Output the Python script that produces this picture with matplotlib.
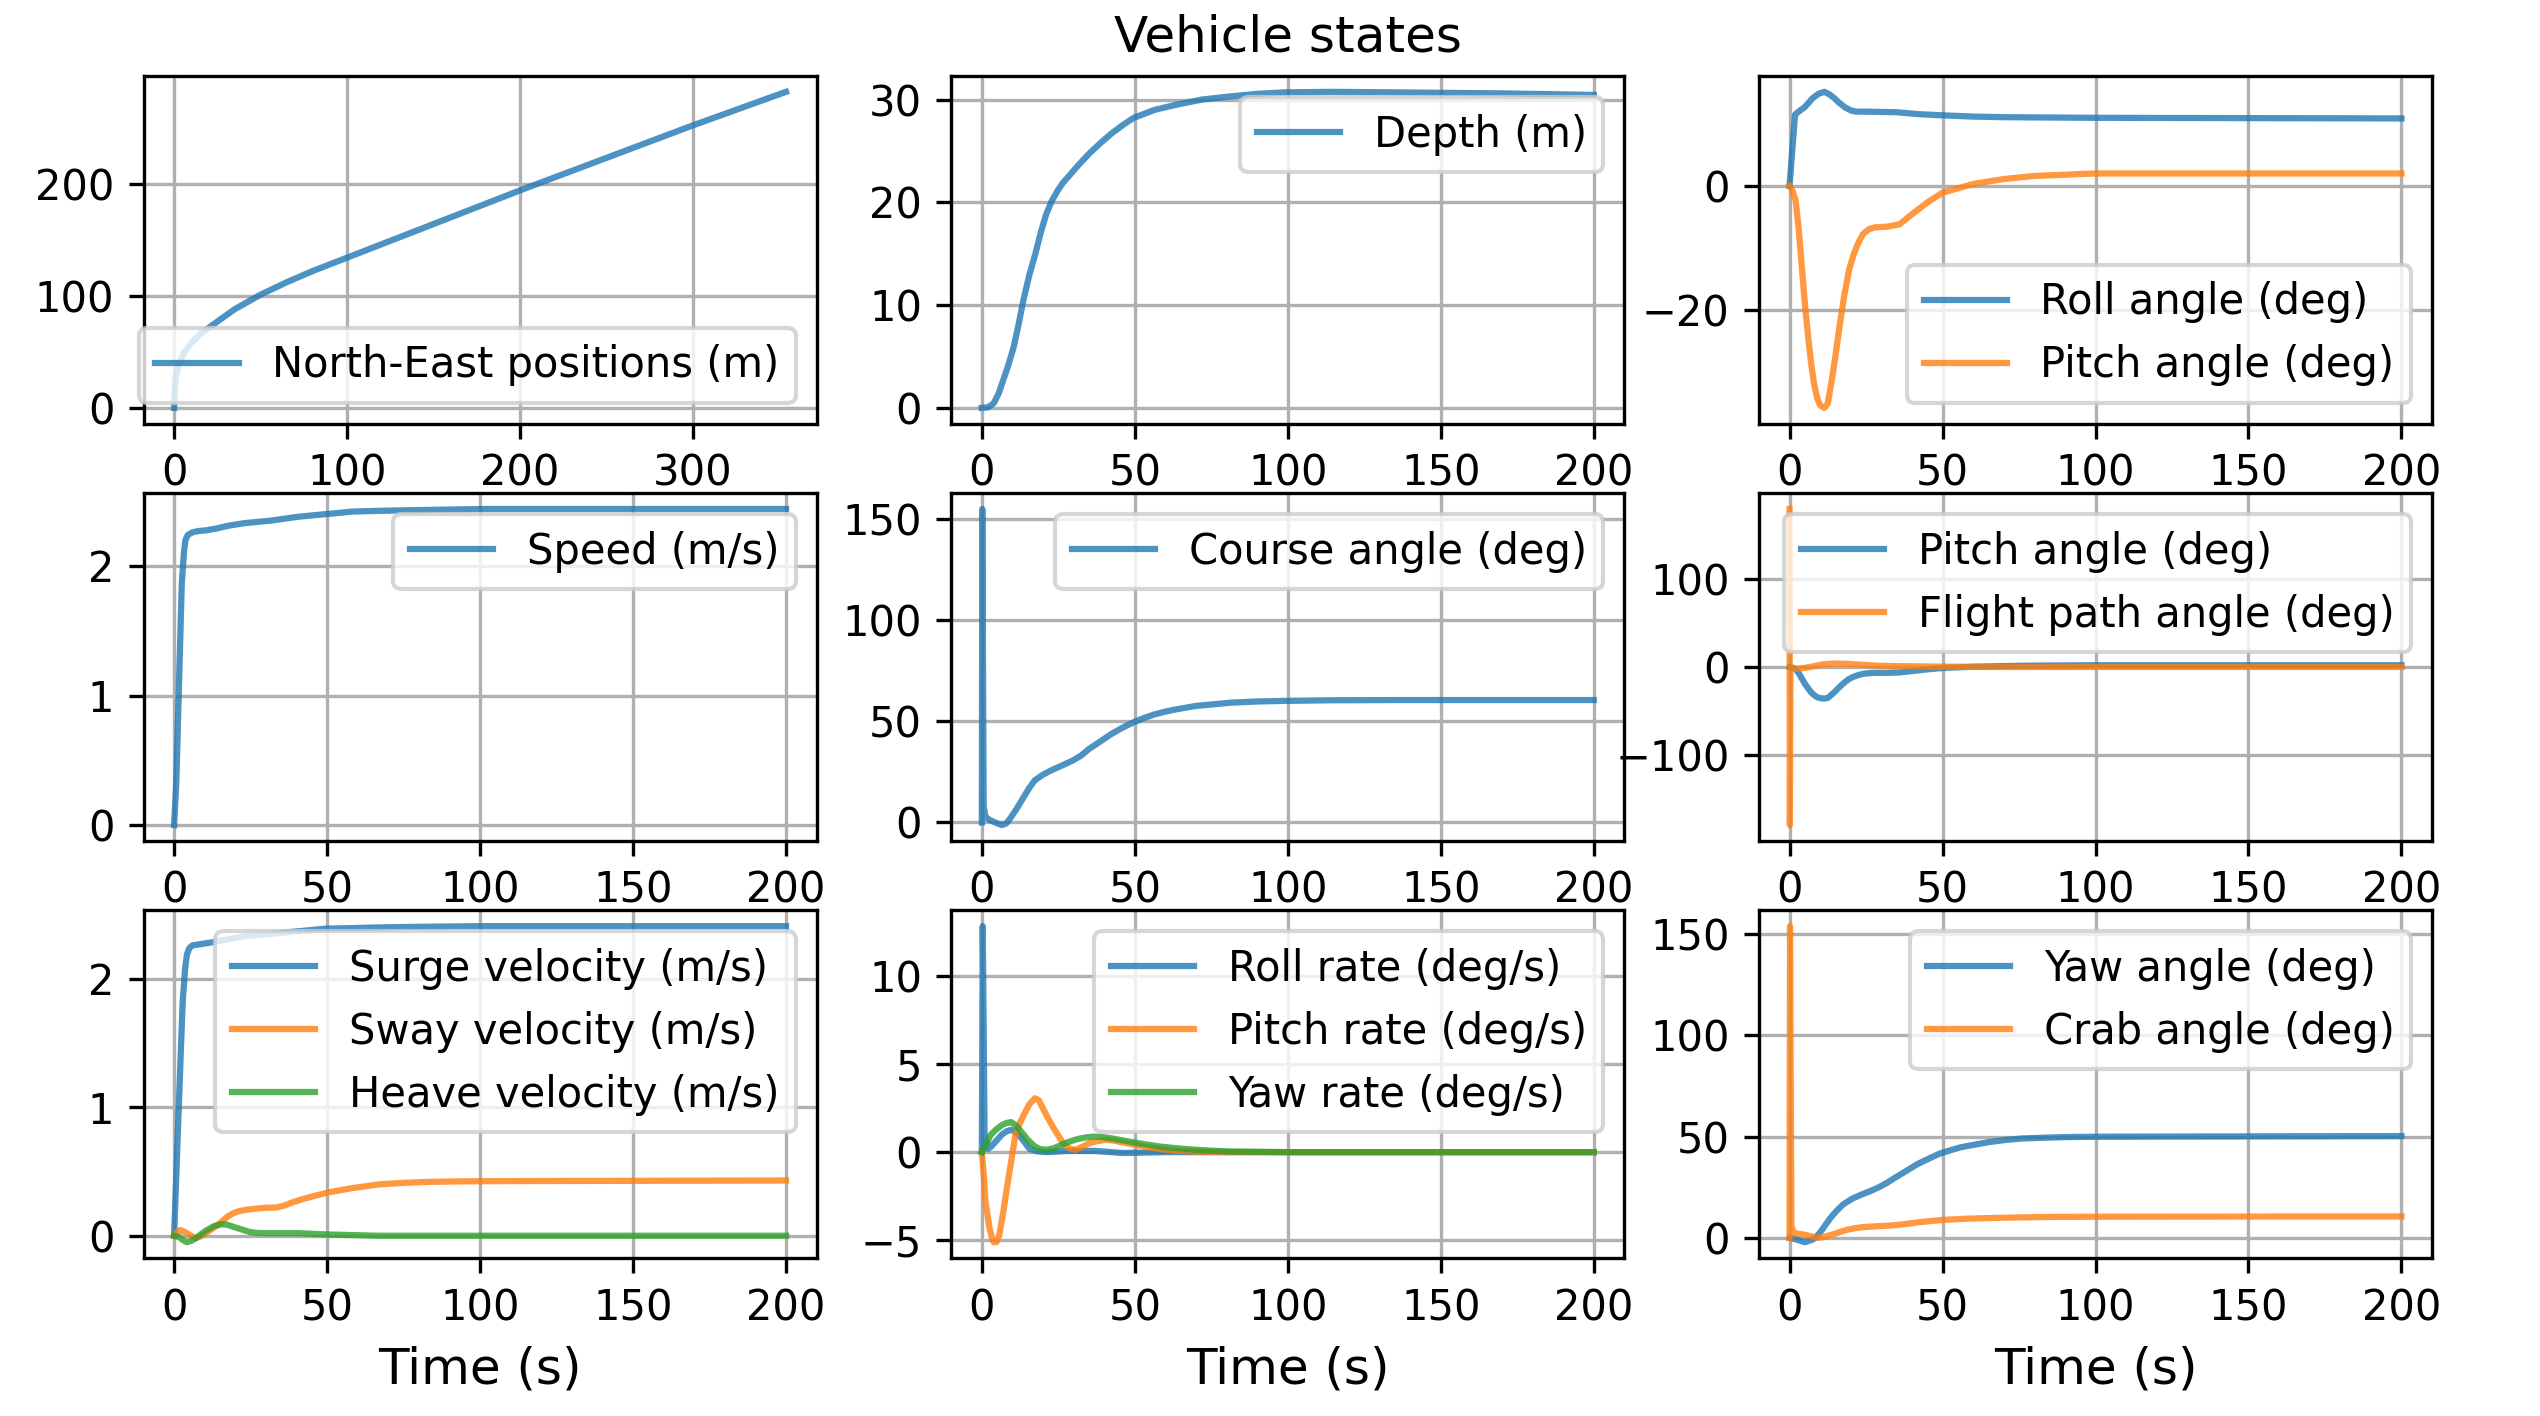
import numpy as np
import matplotlib
matplotlib.use('Agg')
import matplotlib.pyplot as plt

# ---- data ----
east = [0, 0.3, 1, 3, 6, 10, 16, 25, 35, 50, 65, 80, 100, 125, 150, 200, 250, 300, 354]
north = [0, 15, 28, 40, 50, 58, 67, 77, 88, 101, 112, 122, 134, 149, 164, 194, 223, 252, 282]

t_depth = [0, 2, 3.9, 5.5, 7, 8.7, 10.4, 12, 13.6, 15.5, 17.5, 19.3, 21, 22.8, 24.7, 26.5, 28.3,
           31.8, 35.3, 38.9, 42.4, 46, 49.5, 56.5, 63.6, 72, 81, 90, 99, 115, 134, 170, 200]
depth = [0, 0.05, 0.45, 1.4, 2.7, 4.2, 5.9, 8.1, 10.5, 12.9, 15, 17.1, 18.8, 20.1, 21.1, 21.9,
         22.5, 23.7, 24.8, 25.8, 26.7, 27.5, 28.2, 29.0, 29.5, 30.0, 30.3, 30.55, 30.7, 30.75,
         30.7, 30.6, 30.45]

t_roll = [0, 1.8, 3.2, 4.9, 7.6, 9.5, 11.4, 13, 14.6, 16.3, 18.1, 20, 21.7, 25, 35, 42, 50, 60,
          70, 100, 200]
roll = [0, 11.5, 12.1, 12.7, 14.2, 14.9, 15.2, 14.8, 14.2, 13.4, 12.7, 12.2, 12.0, 12.0, 11.9,
        11.6, 11.4, 11.2, 11.1, 11.0, 10.9]

t_pitch = [0, 1, 2, 3, 4, 5, 6, 7, 8, 9, 10, 11.4, 12.5, 14, 15, 16, 17, 18, 19.5, 21, 22.5, 24,
           26, 28, 32, 36, 40, 45, 50, 55, 60, 70, 80, 100, 200]
pitch = [0, -0.8, -2.4, -7, -13, -19, -24, -28.5, -32, -34.3, -35.5, -35.9, -35.2, -30.8, -27.5,
         -23.9, -20.5, -17.4, -13.5, -11, -9.2, -7.8, -7.0, -6.7, -6.6, -6.2, -4.6, -2.7, -1.1,
         -0.4, 0.3, 1.1, 1.6, 2.0, 2.0]

t_speed = [0, 0.7, 1.6, 2.5, 3.2, 3.7, 4.5, 6, 8, 10.4, 14, 17.5, 22.8, 27, 31.6, 36, 40.5, 45,
           49.3, 54, 58, 66, 75.8, 88, 102, 200]
speed = [0, 0.32, 1.09, 1.86, 2.1, 2.2, 2.24, 2.26, 2.27, 2.275, 2.29, 2.31, 2.33, 2.34, 2.35,
         2.365, 2.38, 2.39, 2.40, 2.41, 2.42, 2.425, 2.43, 2.435, 2.44, 2.44]

t_course = [0, 0.15, 0.6, 1.2, 2.5, 3.9, 5.2, 6.6, 8, 9.3, 11.5, 13.7, 15.5, 17.3, 20, 22.6, 26,
            29.7, 32.4, 35, 38.6, 42.2, 45.8, 49.3, 52.8, 56.4, 60, 63.5, 70, 81.3, 90, 99, 115,
            134.7, 200]
course = [0, 155, 8, 2.8, 1.2, 0.3, -0.6, -1.3, -0.5, 2, 7, 12.6, 17, 20.8, 23.6, 25.7, 28,
          30.6, 33, 36.3, 39.9, 43.6, 46.7, 49.3, 51.5, 53.4, 54.8, 55.9, 57.6, 59.2, 59.8, 60.1,
          60.4, 60.5, 60.5]

t_fpa = [0, 0.1, 0.3, 1, 2.5, 5, 8, 11, 14.6, 20, 24, 29, 35, 50, 70, 200]
fpa = [180, -180, -1, -2, -2, -1, 1, 3, 4, 3.4, 2.5, 1.5, 1, 0.4, 0, 0]

t_surge = [0, 1.6, 2.8, 3.6, 4.2, 5, 6, 10, 14, 18, 22.8, 27, 31.6, 36, 40.5, 45, 49.3, 58, 67,
           80, 102, 200]
surge = [0, 1.05, 1.82, 2.08, 2.19, 2.24, 2.26, 2.275, 2.29, 2.31, 2.33, 2.34, 2.35, 2.36, 2.37,
         2.38, 2.39, 2.395, 2.40, 2.405, 2.41, 2.41]

t_sway = [0, 1, 2, 3, 4.2, 5.5, 7, 8.7, 10.4, 12.2, 14, 15.8, 17.5, 19.3, 21, 23.6, 26.3, 30,
          33.4, 36, 38.7, 42, 45.8, 48.4, 51, 54.5, 58, 62.5, 67, 75, 84.6, 93, 102, 200]
sway = [0, 0.03, 0.044, 0.035, 0.02, 0.0, -0.02, -0.005, 0.02, 0.05, 0.08, 0.115, 0.15, 0.175,
        0.19, 0.203, 0.21, 0.218, 0.22, 0.235, 0.26, 0.285, 0.31, 0.325, 0.34, 0.355, 0.37,
        0.385, 0.40, 0.412, 0.42, 0.423, 0.425, 0.43]

t_heave = [0, 1.6, 3, 4.2, 5.6, 7, 8.7, 10.4, 13, 15.7, 17.5, 19.3, 22, 24.6, 27, 29.9, 35,
           40.5, 50, 67, 200]
heave = [0, -0.01, -0.035, -0.05, -0.04, -0.02, 0.01, 0.04, 0.075, 0.09, 0.085, 0.07, 0.05,
         0.03, 0.022, 0.02, 0.02, 0.02, 0.01, 0, 0]

t_p = [0, 0.3, 0.9, 2, 3, 4.8, 6.6, 8.1, 9.6, 10.8, 12, 13.8, 15.5, 18, 21, 28, 37, 46, 60, 200]
p_rate = [0, 12.8, 1, 0.2, 0.3, 0.65, 1.0, 1.18, 1.26, 1.18, 1.0, 0.6, 0.2, 0.05, 0, 0.07,
          0.07, -0.05, 0, 0]

t_q = [0, 0.6, 1.2, 1.9, 2.5, 3.2, 3.9, 4.8, 5.7, 7, 8.4, 9.7, 11, 12.3, 13.7, 15.5, 17.3, 18.6,
       19.9, 21.7, 23.5, 25.3, 27, 28.8, 30.6, 32.8, 35, 37.7, 40.4, 43, 45.7, 50, 54.6, 59,
       63.5, 70, 80, 200]
q_rate = [0, -1.2, -2.8, -3.6, -4.3, -4.8, -5.1, -5.1, -4.7, -3.4, -1.8, -0.4, 1.0, 1.6, 2.1,
          2.7, 3.05, 2.95, 2.5, 1.9, 1.35, 0.85, 0.41, 0.2, 0.13, 0.3, 0.5, 0.62, 0.7, 0.66,
          0.56, 0.42, 0.26, 0.16, 0.08, 0.03, 0, 0]

t_r = [0, 1.5, 3, 4.8, 6.6, 8.1, 9.6, 11.2, 12.8, 15, 17.3, 19, 21, 23.5, 26, 28.7, 31.5, 34.2,
       37, 39.5, 42, 45.6, 49.3, 53.6, 58, 62.5, 67, 74, 81, 100, 200]
r_rate = [0, 0.5, 1.0, 1.3, 1.54, 1.65, 1.7, 1.5, 1.17, 0.7, 0.32, 0.18, 0.13, 0.22, 0.41, 0.6,
          0.75, 0.84, 0.88, 0.85, 0.79, 0.68, 0.56, 0.44, 0.32, 0.24, 0.17, 0.09, 0.04, 0, 0]

t_yaw = [0, 2.3, 5, 7.6, 9, 10.3, 12, 13.8, 15.6, 17.4, 19.2, 20.9, 23.5, 26.2, 29, 31.6, 35,
         38.7, 42, 45.7, 49, 52.8, 56, 59.9, 65, 70.6, 76, 83, 90, 100.7, 200]
yaw = [0, -0.8, -2.1, -0.8, 1, 3.3, 7, 10.7, 13.7, 16.4, 18.2, 19.7, 21.4, 23, 24.9, 27, 30.2,
       33.6, 36.6, 39.3, 41.6, 43.4, 44.8, 45.9, 47.3, 48.4, 49.1, 49.5, 49.8, 50, 50.3]

t_crab = [0, 0.15, 0.6, 1.4, 3, 5, 7, 9.4, 11.5, 13.8, 16.4, 19, 21.7, 24.5, 29, 33, 37.5, 42,
          46.5, 51, 58, 65, 74, 83, 96, 109.6, 200]
crab = [0, 154, 6, 2.5, 2, 1.6, 0.8, 0, 0.6, 1.6, 2.9, 4.1, 4.9, 5.4, 5.8, 6.1, 6.8, 7.7, 8.4,
        9.0, 9.5, 9.8, 10.1, 10.3, 10.45, 10.5, 10.6]

fig, axs = plt.subplots(3, 3, figsize=(2540 / 300, 1416 / 300), dpi=300)
fig.subplots_adjust(left=0.0565, right=0.9575, bottom=0.1116, top=0.9463,
                    wspace=0.2, hspace=0.2)

a = 0.8

ax = axs[0, 0]
ax.plot(east, north, alpha=a, label='North-East positions (m)')
ax.legend(loc='lower right')

ax = axs[0, 1]
ax.plot(t_depth, depth, alpha=a, label='Depth (m)')
ax.legend(loc='upper right')
ax.set_title('Vehicle states', fontsize=12)

ax = axs[0, 2]
ax.plot(t_roll, roll, alpha=a, label='Roll angle (deg)')
ax.plot(t_pitch, pitch, alpha=a, label='Pitch angle (deg)')
ax.legend(loc='lower right')

ax = axs[1, 0]
ax.plot(t_speed, speed, alpha=a, label='Speed (m/s)')
ax.legend(loc='upper right')

ax = axs[1, 1]
ax.plot(t_course, course, alpha=a, label='Course angle (deg)')
ax.legend(loc='upper right')

ax = axs[1, 2]
ax.plot(t_pitch, pitch, alpha=a, label='Pitch angle (deg)')
ax.plot(t_fpa, fpa, alpha=a, label='Flight path angle (deg)')
ax.legend(loc='upper right')

ax = axs[2, 0]
ax.plot(t_surge, surge, alpha=a, label='Surge velocity (m/s)')
ax.plot(t_sway, sway, alpha=a, label='Sway velocity (m/s)')
ax.plot(t_heave, heave, alpha=a, label='Heave velocity (m/s)')
ax.legend(loc='upper right')
ax.set_xlabel('Time (s)', fontsize=12)

ax = axs[2, 1]
ax.plot(t_p, p_rate, alpha=a, label='Roll rate (deg/s)')
ax.plot(t_q, q_rate, alpha=a, label='Pitch rate (deg/s)')
ax.plot(t_r, r_rate, alpha=a, label='Yaw rate (deg/s)')
ax.legend(loc='upper right')
ax.set_xlabel('Time (s)', fontsize=12)

ax = axs[2, 2]
ax.plot(t_yaw, yaw, alpha=a, label='Yaw angle (deg)')
ax.plot(t_crab, crab, alpha=a, label='Crab angle (deg)')
ax.legend(loc='upper right')
ax.set_xlabel('Time (s)', fontsize=12)

for ax in axs.flat:
    ax.grid(True)

fig.savefig('out.png', dpi=300)
